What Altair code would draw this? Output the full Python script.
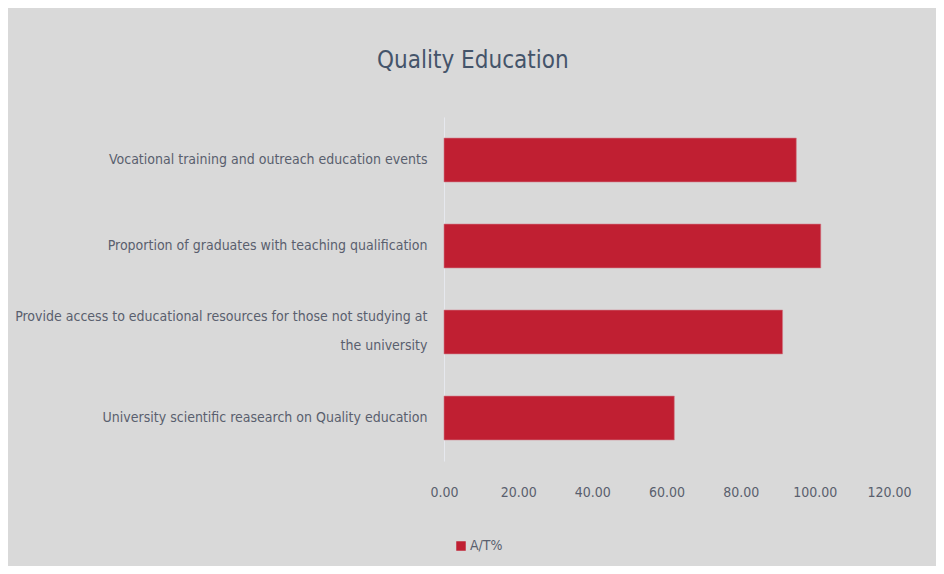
import altair as alt
import pandas as pd

categories = [
    "Vocational training and outreach education events",
    "Proportion of graduates with teaching qualification",
    "Provide access to educational resources for those not studying at|the university",
    "University  scientific reasearch on Quality education",
]
values = [95.0, 101.6, 91.3, 62.1]
series = ["A/T%"] * 4
x_ticks = [0, 20, 40, 60, 80, 100, 120]

df = pd.DataFrame({"category": categories, "value": values, "series": series})

FONT = "'DejaVu Sans Condensed', 'Liberation Sans Narrow', 'Roboto Condensed', Roboto, sans-serif"
TXT = "#595f6e"

chart = (
    alt.Chart(df)
    .mark_bar(color="#c01f32", stroke="#d07a86", strokeWidth=0.6)
    .encode(
        y=alt.Y(
            "category:N",
            sort=categories,
            title=None,
            scale=alt.Scale(paddingInner=0.49, paddingOuter=0.245),
            axis=alt.Axis(
                labelExpr="split(datum.label, '|')",
                labelLimit=0,
                labelFont=FONT,
                labelFontSize=14,
                labelColor=TXT,
                labelPadding=17,
                labelLineHeight=29,
                labelOffset={
                    "condition": {"test": "indexof(datum.value, '|') >= 0", "value": -15},
                    "value": 0,
                },
                ticks=False,
                domain=True,
                domainColor="#e6e8ee",
                domainWidth=1,
                grid=False,
            ),
        ),
        x=alt.X(
            "value:Q",
            title=None,
            scale=alt.Scale(domain=[0, 120], nice=False),
            axis=alt.Axis(
                values=x_ticks,
                format=".2f",
                labelFont=FONT,
                labelFontSize=14,
                labelColor=TXT,
                labelPadding=24,
                labelFlush=False,
                labelOverlap=False,
                ticks=False,
                domain=False,
                grid=False,
            ),
        ),
        color=alt.Color(
            "series:N",
            scale=alt.Scale(range=["#c01f32"]),
            legend=alt.Legend(
                title=None,
                orient="none",
                legendX=10,
                legendY=422,
                symbolType="square",
                symbolSize=90,
                symbolStrokeWidth=0,
                labelFont=FONT,
                labelFontSize=14,
                labelColor=TXT,
                labelOffset=2,
            ),
        ),
    )
    .properties(
        width=445,
        height=344,
        autosize=alt.AutoSizeParams(type="none"),
        padding={"left": 436, "top": 109, "right": 47, "bottom": 105},
        title=alt.TitleParams(
            "Quality Education",
            font=FONT,
            fontSize=24,
            fontWeight="normal",
            color="#44546a",
            anchor="middle",
            frame="bounds",
            offset=44,
            dx=10,
        ),
    )
    .configure(background="#d9d9d9")
    .configure_view(stroke=None)
)

chart.save("out.html", embed_options={"renderer": "svg", "actions": False})
